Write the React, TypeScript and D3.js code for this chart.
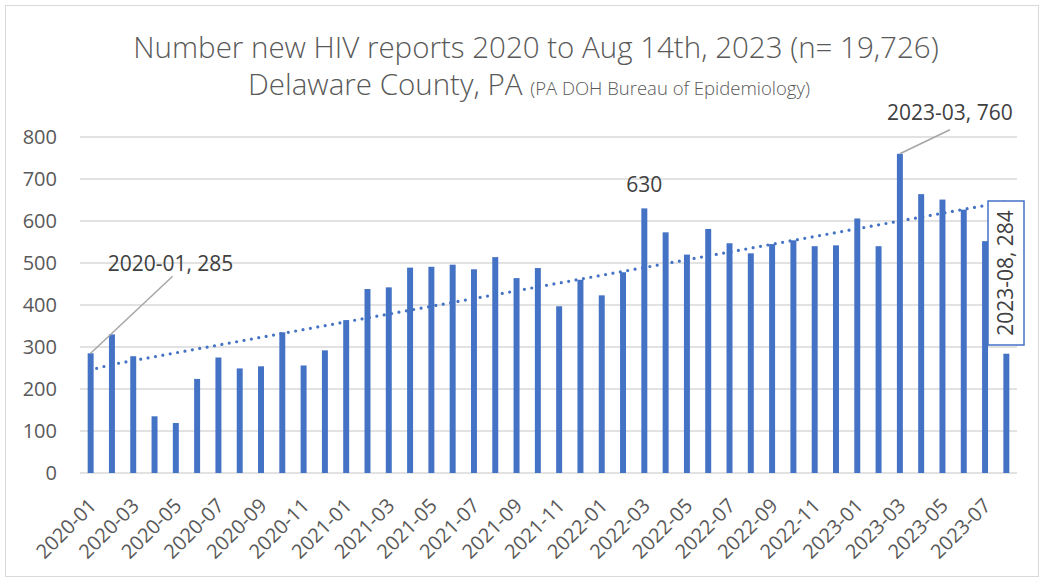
import React from "react";
import * as d3 from "d3";

const months: string[] = [];
for (let y = 2020; y <= 2023; y++) {
  for (let m = 1; m <= 12; m++) {
    if (y === 2023 && m > 8) break;
    months.push(`${y}-${String(m).padStart(2, "0")}`);
  }
}

const reports: number[] = [
  285, 330, 278, 135, 119, 224, 275, 249, 254, 335, 256, 292,
  364, 438, 442, 489, 491, 496, 485, 514, 464, 488, 397, 460,
  423, 478, 630, 573, 520, 581, 547, 523, 545, 554, 540, 542,
  606, 540, 760, 664, 651, 627, 552, 284,
];

const yTicks: number[] = [0, 100, 200, 300, 400, 500, 600, 700, 800];
const titleLine1 = "Number new HIV reports 2020 to Aug 14th, 2023 (n= 19,726)";
const titleLine2 = "Delaware County, PA ";
const titleSource = "(PA DOH Bureau of Epidemiology)";

const W = 1044;
const H = 581;
const FONT = "'Open Sans', sans-serif";
const BLUE = "#4472C4";
const TEXT = "#595959";

export default function App() {
  const x = d3.scaleBand<string>().domain(months).range([80, 1017]).paddingInner(0.72).paddingOuter(0.36);
  const y = d3.scaleLinear().domain([0, 800]).range([473, 137]);
  const cx = (m: string) => (x(m) as number) + x.bandwidth() / 2;

  // linear trend (least squares over month index)
  const n = reports.length;
  const idx = d3.range(1, n + 1);
  const mx = d3.mean(idx) as number;
  const my = d3.mean(reports) as number;
  const slope =
    d3.sum(idx.map((i, k) => (i - mx) * (reports[k] - my))) / d3.sum(idx.map((i) => (i - mx) ** 2));
  const intercept = my - slope * mx;
  const trend = d3.line<number>()
    .x((i) => cx(months[i - 1]) + (i === 1 ? 6 : 0))
    .y((i) => y(intercept + slope * i));

  const labelMonths = months.filter((_, i) => i % 2 === 0);

  const p1 = { x: cx(months[0]), y: y(reports[0]) };
  const i630 = months.indexOf("2022-03");
  const i760 = months.indexOf("2023-03");
  const p760 = { x: cx(months[i760]), y: y(reports[i760]) };
  const iLast = n - 1;

  return (
    <svg width={W} height={H} style={{ position: "absolute", left: 0, top: 0, background: "#fff" }} fontFamily={FONT}>
      <rect x={5.5} y={5.5} width={W - 11} height={H - 10} fill="#fff" stroke="#d9d9d9" strokeWidth={1} />
      <text x={536} y={58} textAnchor="middle" fontSize={29.5} fill={TEXT} fontWeight={300}>{titleLine1}</text>
      <text x={529} y={95} textAnchor="middle" fontSize={29.5} fill={TEXT} fontWeight={300}>
        {titleLine2}
        <tspan fontSize={18.5}>{titleSource}</tspan>
      </text>

      {yTicks.map((t) => (
        <g key={t}>
          <line x1={80} x2={1017} y1={y(t)} y2={y(t)} stroke="#d9d9d9" strokeWidth={1.5} />
          <text x={57} y={y(t) + 7} textAnchor="end" fontSize={20} fill={TEXT}>{t}</text>
        </g>
      ))}

      {months.map((m, i) => (
        <rect key={m} x={x(m)} y={y(reports[i])} width={x.bandwidth()} height={y(0) - y(reports[i])} fill={BLUE} />
      ))}

      {labelMonths.map((m) => (
        <text key={m} transform={`translate(${cx(m) + 7},${507}) rotate(-45)`} textAnchor="end" fontSize={20} fill={TEXT}>
          {m}
        </text>
      ))}

      <path d={trend(idx) as string} fill="none" stroke={BLUE} strokeWidth={3.2} strokeDasharray="0 7.5" strokeLinecap="round" />

      {/* annotations */}
      <line x1={p1.x} y1={p1.y} x2={p1.x + 82} y2={p1.y - 77} stroke="#a6a6a6" strokeWidth={1.5} />
      <text x={p1.x + 17} y={p1.y - 82} fontSize={21} fill="#404040">{`${months[0]}, ${reports[0]}`}</text>

      <text x={cx(months[i630])} y={y(reports[i630]) - 16} textAnchor="middle" fontSize={21} fill="#404040">{reports[i630]}</text>

      <line x1={p760.x} y1={p760.y} x2={p760.x + 50} y2={p760.y - 24} stroke="#a6a6a6" strokeWidth={1.5} />
      <text x={p760.x + 50} y={p760.y - 34} textAnchor="middle" fontSize={21} fill="#404040">{`${months[i760]}, ${reports[i760]}`}</text>

      <rect x={988} y={201} width={36} height={144} fill="#fff" stroke={BLUE} strokeWidth={1.5} />
      <text transform={`translate(${1013},${273}) rotate(-90)`} textAnchor="middle" fontSize={21} fill="#404040">
        {`${months[iLast]}, ${reports[iLast]}`}
      </text>
    </svg>
  );
}
